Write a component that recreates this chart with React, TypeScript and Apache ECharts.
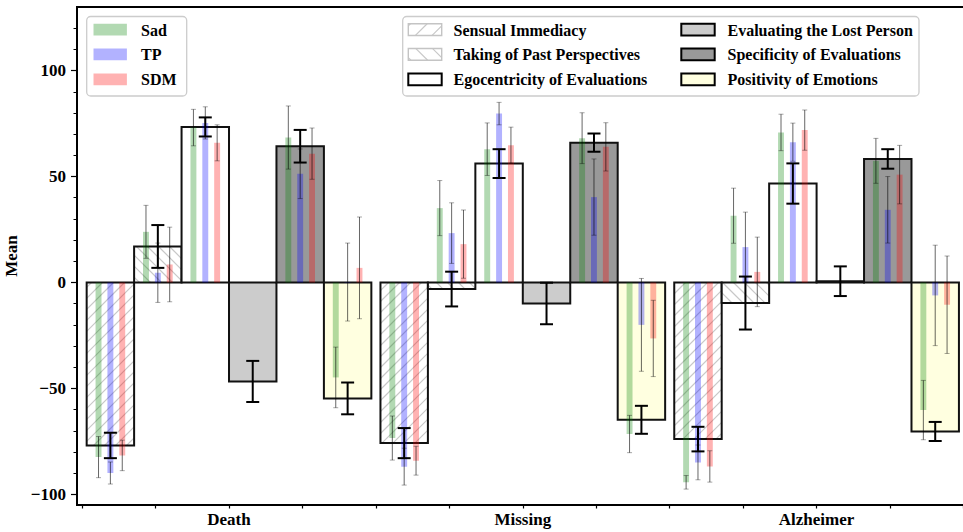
import React, { useEffect, useRef } from "react";
import * as echarts from "echarts";

// ---------- data ----------
const groups = ["Death", "Missing", "Alzheimer"];
const dimensions = [
  "Sensual Immediacy",
  "Taking of Past Perspectives",
  "Egocentricity of Evaluations",
  "Evaluating the Lost Person",
  "Specificity of Evaluations",
  "Positivity of Emotions",
];
const conditions = ["Sad", "TP", "SDM"];

// overall mean per group (rows) and dimension (columns)
const overallMean = [
  [-76.9, 17.0, 73.4, -46.7, 64.3, -54.7],
  [-75.8, -3.1, 56.1, -9.9, 66.0, -64.8],
  [-73.9, -9.7, 46.7, 0.6, 58.3, -70.3],
];
const overallErr = [
  [6.0, 10.1, 4.5, 9.7, 7.7, 7.5],
  [7.1, 8.2, 6.8, 9.8, 4.3, 6.6],
  [5.8, 12.5, 9.5, 7.0, 4.6, 4.5],
];

const sadMean = [
  [-82.4, 23.9, 73.1, null, 68.4, -44.8],
  [-73.4, 35.1, 62.9, null, 68.1, -71.5],
  [-94.3, 31.5, 70.8, null, 57.4, -60.2],
];
const sadErr = [
  [9.7, 12.5, 8.6, null, 14.9, 14.3],
  [10.4, 13.0, 12.4, null, 12.0, 8.8],
  [3.2, 13.0, 8.6, null, 10.6, 14.0],
];
const tpMean = [
  [-89.9, 4.6, 75.3, null, 51.3, 0.2],
  [-86.9, 23.3, 79.7, null, 40.3, -20.0],
  [-84.9, 16.7, 66.2, null, 34.3, -6.1],
];
const tpErr = [
  [5.2, 14.0, 7.6, null, 11.7, 18.4],
  [8.7, 14.3, 5.3, null, 18.0, 21.9],
  [8.2, 16.5, 9.0, null, 15.7, 23.7],
];
const sdmMean = [
  [-81.6, 8.5, 65.9, null, 60.8, 6.9],
  [-84.1, 18.1, 64.8, null, 64.0, -26.4],
  [-86.8, 5.0, 71.9, null, 50.9, -10.5],
];
const sdmErr = [
  [7.2, 17.6, 8.5, null, 12.1, 24.0],
  [6.8, 16.1, 8.5, null, 11.4, 18.0],
  [7.4, 16.4, 9.5, null, 13.8, 23.0],
];

const yMajorTicks = [-100, -50, 0, 50, 100];
const yMinorTicks = [-100, -90, -80, -70, -60, -50, -40, -30, -20, -10, 0, 10, 20, 30, 40, 50, 60, 70, 80, 90, 100, 110, 120];
const xTicks = [-0.5, -0.25, 0, 0.25, 0.5, 0.75, 1, 1.25, 1.5, 1.75, 2, 2.25, 2.5];
const xLabelValues = [0, 1, 2];

// ---------- styles ----------
const W = 0.1615; // wide bar width (x units)
const FONT = "Liberation Serif, Times New Roman, DejaVu Serif, serif";
const FS_AXIS = 17;
const FS_LEGEND = 16;
const dimFill = ["#ffffff", "#ffffff", "#ffffff", "#cccccc", "#999999", "#ffffe0"];
const dimHatch = ["/", "\\", "", "", "", ""];
const dimLegendStroke = ["#c4c4c4", "#c4c4c4", "#000000", "#000000", "#000000", "#000000"];
const condColors = ["rgba(0,128,0,0.3)", "rgba(0,0,255,0.3)", "rgba(255,0,0,0.3)"];
const HATCH_COLOR = "#c8c8c8";
const HATCH_STEP = 11;

function hatchLines(x0: number, y0: number, x1: number, y1: number, dir: string, step: number) {
  const out: any[] = [];
  if (!dir) return out;
  if (dir === "/") {
    const cMin = Math.ceil((x0 + y0) / step) * step;
    for (let c = cMin; c <= x1 + y1; c += step) {
      const xa = Math.max(x0, c - y1);
      const xb = Math.min(x1, c - y0);
      if (xb > xa)
        out.push({ type: "line", shape: { x1: xa, y1: c - xa, x2: xb, y2: c - xb }, style: { stroke: HATCH_COLOR, lineWidth: 1.2 } });
    }
  } else {
    const cMin = Math.ceil((x0 - y1) / step) * step;
    for (let c = cMin; c <= x1 - y0; c += step) {
      const xa = Math.max(x0, y0 + c);
      const xb = Math.min(x1, y1 + c);
      if (xb > xa)
        out.push({ type: "line", shape: { x1: xa, y1: xa - c, x2: xb, y2: xb - c }, style: { stroke: HATCH_COLOR, lineWidth: 1.2 } });
    }
  }
  return out;
}

function wideX(gi: number, di: number) {
  return gi + (di - 2.5) * W;
}

export default function App() {
  const ref = useRef<HTMLDivElement>(null);
  useEffect(() => {
    if (!ref.current) return;
    const chart = echarts.init(ref.current, undefined, { renderer: "svg" });

    const wideData: any[] = [];
    groups.forEach((_, gi) =>
      dimensions.forEach((_, di) => wideData.push([wideX(gi, di), overallMean[gi][di], di, overallErr[gi][di]]))
    );
    const condMeans = [sadMean, tpMean, sdmMean];
    const condErrs = [sadErr, tpErr, sdmErr];
    const thinData = condMeans.map((m, ci) => {
      const arr: any[] = [];
      groups.forEach((_, gi) =>
        dimensions.forEach((_, di) => {
          const v = m[gi][di];
          if (v === null) return;
          arr.push([wideX(gi, di) + (ci - 1) * (W / 4), v, condErrs[ci][gi][di]]);
        })
      );
      return arr;
    });

    const wideSeries = {
      type: "custom",
      name: "overall",
      z: 2,
      data: wideData,
      encode: { x: 0, y: 1 },
      renderItem: (params: any, api: any) => {
        const xc = api.value(0);
        const v = api.value(1);
        const di = api.value(2);
        const p1 = api.coord([xc - W / 2, v]);
        const p2 = api.coord([xc + W / 2, 0]);
        const x0 = Math.min(p1[0], p2[0]);
        const x1 = Math.max(p1[0], p2[0]);
        const y0 = Math.min(p1[1], p2[1]);
        const y1 = Math.max(p1[1], p2[1]);
        const children: any[] = [
          { type: "rect", shape: { x: x0, y: y0, width: x1 - x0, height: y1 - y0 }, style: { fill: dimFill[di], stroke: "none" } },
          ...hatchLines(x0, y0, x1, y1, dimHatch[di], HATCH_STEP),
          { type: "rect", shape: { x: x0, y: y0, width: x1 - x0, height: y1 - y0 }, style: { fill: "none", stroke: "#111", lineWidth: 2 } },
        ];
        return { type: "group", children };
      },
    };

    const thinSeries = thinData.map((d, ci) => ({
      type: "custom",
      name: conditions[ci],
      z: 3,
      data: d,
      encode: { x: 0, y: 1 },
      renderItem: (params: any, api: any) => {
        const xc = api.value(0);
        const v = api.value(1);
        const p1 = api.coord([xc - W / 16, v]);
        const p2 = api.coord([xc + W / 16, 0]);
        const x0 = Math.min(p1[0], p2[0]);
        const y0 = Math.min(p1[1], p2[1]);
        return {
          type: "rect",
          shape: { x: x0, y: y0, width: Math.abs(p2[0] - p1[0]), height: Math.abs(p2[1] - p1[1]) },
          style: { fill: condColors[ci], stroke: "none" },
        };
      },
    }));

    const errRender = (capHalf: number, color: string, lw: number, capColor: string, capLw: number) => (params: any, api: any) => {
      const xc = api.value(0);
      const v = api.value(1);
      const e = api.value(2);
      const top = api.coord([xc, v + e]);
      const bot = api.coord([xc, v - e]);
      return {
        type: "group",
        children: [
          { type: "line", shape: { x1: top[0], y1: top[1], x2: bot[0], y2: bot[1] }, style: { stroke: color, lineWidth: lw } },
          { type: "line", shape: { x1: top[0] - capHalf, y1: top[1], x2: top[0] + capHalf, y2: top[1] }, style: { stroke: capColor, lineWidth: capLw } },
          { type: "line", shape: { x1: bot[0] - capHalf, y1: bot[1], x2: bot[0] + capHalf, y2: bot[1] }, style: { stroke: capColor, lineWidth: capLw } },
        ],
      };
    };

    const thinErrSeries = thinData.map((d, ci) => ({
      type: "custom",
      name: conditions[ci] + " err",
      z: 4,
      data: d,
      encode: { x: 0, y: 1 },
      renderItem: errRender(2.5, "rgba(0,0,0,0.6)", 1, "rgba(0,0,0,0.35)", 1),
    }));

    const wideErrSeries = {
      type: "custom",
      name: "overall err",
      z: 5,
      data: wideData.map((r) => [r[0], r[1], r[3]]),
      encode: { x: 0, y: 1 },
      renderItem: errRender(6.5, "#000", 2, "#000", 2),
    };

    // legends (graphic)
    const rows = [29.6, 54.4, 79.4];
    const legendText = (text: string, x: number, y: number) => ({
      type: "text",
      x,
      y,
      style: { text, fill: "#000", fontFamily: FONT, fontWeight: "bold", fontSize: FS_LEGEND, verticalAlign: "middle", align: "left" },
    });
    const PW = 33.4;
    const PH = 11.7;
    const legend1: any[] = [
      { type: "rect", shape: { x: 86.7, y: 16.5, width: 100, height: 79.5, r: 4 }, style: { fill: "rgba(255,255,255,0.8)", stroke: "#cccccc", lineWidth: 1.3 } },
    ];
    conditions.forEach((c, ci) => {
      legend1.push({ type: "rect", shape: { x: 93.5, y: rows[ci] - PH / 2, width: PW, height: PH }, style: { fill: condColors[ci] } });
      legend1.push(legendText(c, 141, rows[ci] + 0.5));
    });
    const legend2: any[] = [
      { type: "rect", shape: { x: 402.7, y: 16.5, width: 516.3, height: 79.5, r: 4 }, style: { fill: "rgba(255,255,255,0.8)", stroke: "#cccccc", lineWidth: 1.3 } },
    ];
    const colPatchX = [408.3, 681.3];
    const colTextX = [453.5, 727.5];
    dimensions.forEach((d, di) => {
      const col = Math.floor(di / 3);
      const row = di % 3;
      const px = colPatchX[col];
      const py = rows[row] - PH / 2;
      const hatched = dimHatch[di] !== "";
      legend2.push({ type: "rect", shape: { x: px, y: py, width: PW, height: PH }, style: { fill: dimFill[di] } });
      hatchLines(px, py, px + PW, py + PH, dimHatch[di], 16.7).forEach((l) => legend2.push(l));
      legend2.push({ type: "rect", shape: { x: px, y: py, width: PW, height: PH }, style: { fill: "none", stroke: dimLegendStroke[di], lineWidth: hatched ? 1.4 : 2 } });
      legend2.push(legendText(d, colTextX[col], rows[row] + 0.5));
    });

    const labelStyle = { color: "#000", fontFamily: FONT, fontWeight: "bold", fontSize: FS_AXIS };

    chart.setOption({
      animation: false,
      grid: {
        left: 77,
        top: 7,
        width: 891.6,
        height: 498,
        show: true,
        borderColor: "#000",
        borderWidth: 2,
        backgroundColor: "transparent",
        containLabel: false,
        outerBoundsMode: "none",
      },
      xAxis: {
        type: "value",
        min: -0.5174,
        max: 2.5174,
        position: "bottom",
        axisLine: { show: false, onZero: false },
        splitLine: { show: false },
        axisTick: { show: true, length: 3.5, lineStyle: { color: "#000", width: 1.2 }, customValues: xTicks },
        axisLabel: { ...labelStyle, margin: 6, customValues: xLabelValues, formatter: (v: number) => groups[Math.round(v)] },
      },
      yAxis: [
        {
          type: "value",
          min: -105,
          max: 130,
          position: "left",
          name: "Mean",
          nameLocation: "middle",
          nameRotate: 90,
          nameGap: 47,
          nameTextStyle: labelStyle,
          axisLine: { show: false, onZero: false },
          splitLine: { show: false },
          axisTick: { show: true, length: 6, lineStyle: { color: "#000", width: 1.2 }, customValues: yMajorTicks },
          axisLabel: { ...labelStyle, margin: 11, customValues: yMajorTicks, formatter: (v: number) => (v < 0 ? "\u2212" + Math.abs(v) : String(v)) },
        },
        {
          type: "value",
          min: -105,
          max: 130,
          position: "left",
          offset: 0,
          axisLine: { show: false, onZero: false },
          splitLine: { show: false },
          axisTick: { show: true, length: 3.5, lineStyle: { color: "#000", width: 1 }, customValues: yMinorTicks },
          axisLabel: { show: false },
        },
      ],
      series: [wideSeries, ...thinSeries, ...thinErrSeries, wideErrSeries],
      graphic: [
        { type: "group", z: 100, children: legend1 },
        { type: "group", z: 100, children: legend2 },
      ],
    });
    return () => chart.dispose();
  }, []);
  return <div ref={ref} style={{ position: "fixed", left: 0, top: 0, width: 963, height: 532, background: "#fff" }} />;
}
